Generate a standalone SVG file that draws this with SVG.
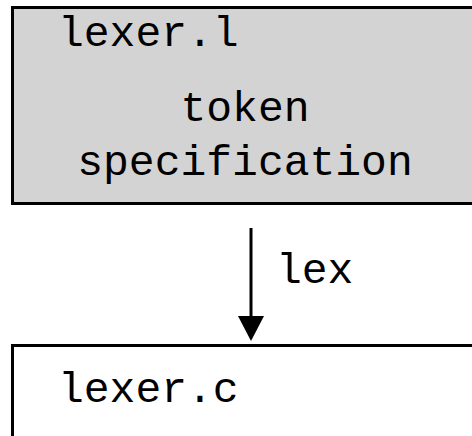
<svg xmlns="http://www.w3.org/2000/svg" width="472" height="436" viewBox="0 0 472 436">
<style>
.box{stroke:#000;stroke-width:3}
.t{font-family:"Liberation Mono","Courier New",monospace;font-size:43px;fill:#000}
</style>
<g id="lexer_l">
<rect class="box" x="12.5" y="7.5" width="480" height="196" fill="#d3d3d3"/>
<text class="t" x="58" y="46">lexer.l</text>
<text class="t" x="245" y="121" text-anchor="middle">token</text>
<text class="t" x="245" y="175" text-anchor="middle">specification</text>
</g>
<g id="lexer_c">
<rect class="box" x="12.5" y="345.5" width="480" height="120" fill="#fff"/>
<text class="t" x="58" y="402">lexer.c</text>
</g>
<g id="connectors">
<line x1="251" y1="228" x2="251" y2="318" stroke="#000" stroke-width="3"/>
<path d="M238,316 L264,316 L251,341 Z" fill="#000"/>
<text class="t" x="276" y="283">lex</text>
</g>
</svg>
